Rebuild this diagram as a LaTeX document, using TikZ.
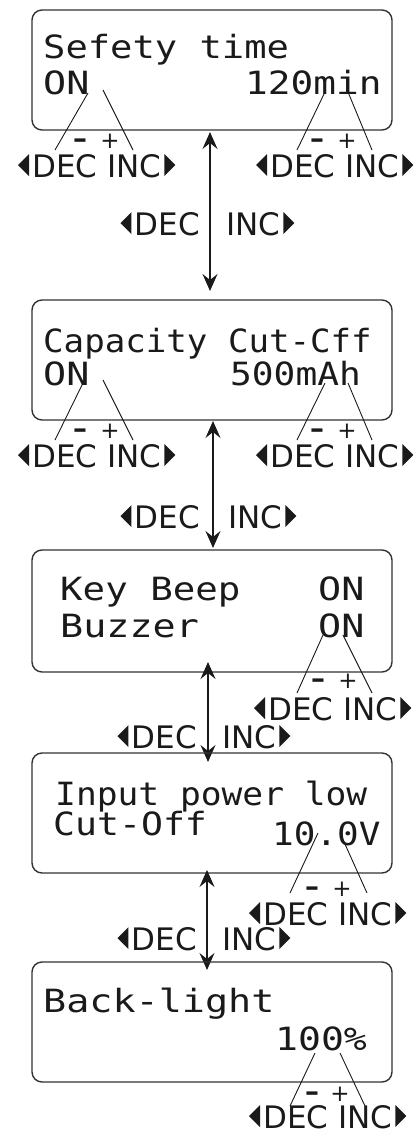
\documentclass[tikz,border=0pt]{standalone}
\usepackage{fontspec}
\usepackage{graphicx}
\setmainfont{DejaVu Sans}
\newfontfamily\lcdfont{DejaVu Sans Mono}
\usetikzlibrary{arrows.meta}
\definecolor{ink}{HTML}{1A1A1A}
\definecolor{frame}{HTML}{333333}
\newcommand\sx[2]{\scalebox{#1}[1]{#2}}
\tikzset{
  lcdbox/.style={draw=frame, line width=1.4pt, rounded corners=10pt, minimum width=360pt, minimum height=120pt, inner sep=0pt},
  lcd/.style={font=\lcdfont\fontsize{32}{32}\selectfont, text=ink, inner sep=0pt, anchor=base west},
  lab/.style={font=\fontsize{31}{31}\selectfont, text=ink, inner sep=0pt},
  sgnm/.style={font=\bfseries\fontsize{24}{24}\selectfont, text=ink, inner sep=0pt, anchor=base},
  sgnp/.style={font=\fontsize{23}{23}\selectfont, text=ink, inner sep=0pt, anchor=base},
  ptr/.style={draw=ink, line width=0.9pt},
  dbl/.style={draw=ink, line width=1.5pt, {Stealth[length=17pt,width=15pt,inset=6pt]}-{Stealth[length=17pt,width=15pt,inset=6pt]}},
  tri/.style={fill=ink},
}
% DEC INC label with side triangles: name, x, baseline y
\newcommand\decinc[3]{%
  \node[lab, anchor=base west] (#1) at (#2,#3) {DEC INC};
  \fill[tri] ([xshift=-3pt,yshift=1pt]#1.base west) -- ++(0,-22) -- ++(-11,11) -- cycle;
  \fill[tri] ([xshift=3pt,yshift=1pt]#1.base east) -- ++(0,-22) -- ++(11,11) -- cycle;
}
% split label around an arrow: name, DEC right x, INC left x, baseline y
\newcommand\midlab[4]{%
  \node[lab, anchor=base east] (#1d) at (#2,#4) {DEC};
  \node[lab, anchor=base west] (#1i) at (#3,#4) {INC};
  \fill[tri] ([xshift=-3pt,yshift=1pt]#1d.base west) -- ++(0,-22) -- ++(-11,11) -- cycle;
  \fill[tri] ([xshift=3pt,yshift=1pt]#1i.base east) -- ++(0,-22) -- ++(11,11) -- cycle;
}
% minus / plus signs: name, minus x, plus x, centre y
\newcommand\signs[4]{%
  \node[sgnm] (#1m) at (#2,#4+6) {\sx{1.5}{-}};
  \node[sgnp] (#1p) at (#3,#4+7) {+};
}
\begin{document}
\begin{tikzpicture}[x=1pt,y=-1pt]
\useasboundingbox (0,0) rectangle (413,1135);

% ---------- Box 1 ----------
\node[lcdbox] (b1) at (212,70) {};
\node[lcd] (t1a) at (43,58) {\sx{1.16}{Sefety time}};
\node[lcd] (t1b) at (43,94) {\sx{1.2}{ON}};
\node[lcd] (t1c) at (245,94) {\sx{1.18}{120min}};
\coordinate (p1a) at (88,93);  \coordinate (q1a) at (55,150);
\coordinate (p1b) at (103,90); \coordinate (q1b) at (133,150);
\coordinate (p1c) at (325,92); \coordinate (q1c) at (297,150);
\coordinate (p1d) at (348,92); \coordinate (q1d) at (372,150);
\draw[ptr] (p1a) -- (q1a); \draw[ptr] (p1b) -- (q1b);
\draw[ptr] (p1c) -- (q1c); \draw[ptr] (p1d) -- (q1d);
\signs{s1}{80}{110}{141}
\signs{s1r}{317}{347}{141}
\decinc{l1}{32}{177}
\decinc{l1r}{270}{177}

% arrow 1-2
\coordinate (a1t) at (210,132); \coordinate (a1b) at (210,291);
\draw[dbl] (a1t) -- (a1b);
\midlab{m1}{200}{226}{235}

% ---------- Box 2 ----------
\node[lcdbox] (b2) at (212,360) {};
\node[lcd] (t2a) at (43,352) {\sx{1.066}{Capacity Cut-Cff}};
\node[lcd] (t2b) at (43,385) {\sx{1.2}{ON}};
\node[lcd] (t2c) at (230,385) {\sx{1.13}{500mAh}};
\coordinate (p2a) at (83,383);  \coordinate (q2a) at (55,440);
\coordinate (p2b) at (103,380); \coordinate (q2b) at (133,440);
\coordinate (p2c) at (325,383); \coordinate (q2c) at (297,440);
\coordinate (p2d) at (348,383); \coordinate (q2d) at (372,440);
\draw[ptr] (p2a) -- (q2a); \draw[ptr] (p2b) -- (q2b);
\draw[ptr] (p2c) -- (q2c); \draw[ptr] (p2d) -- (q2d);
\signs{s2}{80}{110}{431}
\signs{s2r}{317}{347}{431}
\decinc{l2}{32}{467}
\decinc{l2r}{270}{467}

% arrow 2-3
\coordinate (a2t) at (213,421); \coordinate (a2b) at (213,548);
\draw[dbl] (a2t) -- (a2b);
\midlab{m2}{200}{228}{528}

% ---------- Box 3 ----------
\node[lcdbox, minimum height=122pt] (b3) at (212,611) {};
\node[lcd] (t3a) at (60,600) {\sx{1.17}{Key Beep}};
\node[lcd] (t3b) at (318,600) {\sx{1.2}{ON}};
\node[lcd] (t3c) at (60,637) {\sx{1.2}{Buzzer}};
\node[lcd] (t3d) at (318,637) {\sx{1.2}{ON}};
\coordinate (p3a) at (323,635); \coordinate (q3a) at (297,693);
\coordinate (p3b) at (343,635); \coordinate (q3b) at (372,693);
\draw[ptr] (p3a) -- (q3a); \draw[ptr] (p3b) -- (q3b);
\signs{s3}{318}{348}{681}
\decinc{l3}{268}{720}

% arrow 3-4
\coordinate (a3t) at (208,662); \coordinate (a3b) at (208,762);
\draw[dbl] (a3t) -- (a3b);
\midlab{m3}{197}{222}{748}

% ---------- Box 4 ----------
\node[lcdbox] (b4) at (212,813) {};
\node[lcd] (t4a) at (55,805) {\sx{1.08}{Input power low}};
\node[lcd] (t4b) at (53,835) {\sx{1.14}{Cut-Off}};
\node[lcd] (t4c) at (272,845) {\sx{1.125}{10.0V}};
\coordinate (p4a) at (318,833); \coordinate (q4a) at (290,893);
\coordinate (p4b) at (340,833); \coordinate (q4b) at (367,893);
\draw[ptr] (p4a) -- (q4a); \draw[ptr] (p4b) -- (q4b);
\signs{s4}{312}{342}{889}
\decinc{l4}{263}{925}

% arrow 4-5
\coordinate (a4t) at (207,870); \coordinate (a4b) at (207,970);
\draw[dbl] (a4t) -- (a4b);
\midlab{m4}{197}{222}{950}

% ---------- Box 5 ----------
\node[lcdbox] (b5) at (212,1022) {};
\node[lcd] (t5a) at (43,1012) {\sx{1.2}{Back-light}};
\node[lcd] (t5b) at (275,1050) {\sx{1.19}{100\%}};
\coordinate (p5a) at (315,1053); \coordinate (q5a) at (290,1106);
\coordinate (p5b) at (340,1053); \coordinate (q5b) at (365,1106);
\draw[ptr] (p5a) -- (q5a); \draw[ptr] (p5b) -- (q5b);
\signs{s5}{312}{340}{1094}
\decinc{l5}{263}{1128}
\end{tikzpicture}
\end{document}
